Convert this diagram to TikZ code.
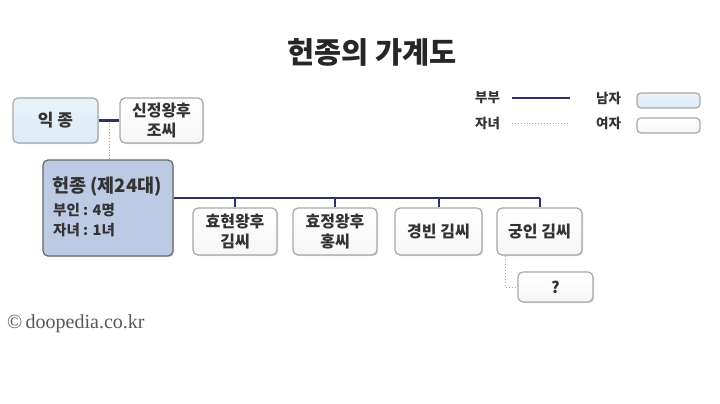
\documentclass[tikz,border=0pt]{standalone}
\usepackage{fontspec}
\setmainfont{Noto Sans CJK KR}
\newfontfamily\serifcr{Liberation Serif}
\usetikzlibrary{shadows,calc}
\definecolor{navy}{HTML}{2E2F6B}
\definecolor{bordergray}{HTML}{A8A8A8}
\definecolor{malefill}{HTML}{DCEBF6}
\definecolor{femfill}{HTML}{F6F6F6}
\definecolor{kingfill}{HTML}{BCCBE3}
\definecolor{txt}{HTML}{333333}
\tikzset{
  person/.style={draw=bordergray, line width=1.2pt, rounded corners=5pt, align=center,
    text=txt, font=\bfseries\fontsize{16}{20}\selectfont, inner sep=2pt,
    drop shadow={shadow xshift=1.2pt, shadow yshift=-1.2pt, opacity=0.25}},
  male/.style={person, top color=white!40!malefill, bottom color=malefill},
  female/.style={person, top color=white, bottom color=femfill},
  king/.style={person, fill=kingfill, draw=gray!80!black},
  spouse/.style={draw=navy, line width=2.4pt},
  child/.style={draw=gray!70, line width=0.9pt, dotted},
  legbox/.style={draw=bordergray, line width=1.2pt, rounded corners=4pt, minimum width=63pt, minimum height=15pt, inner sep=0pt},
  legtxt/.style={text=txt, font=\bfseries\fontsize{13.5}{15}\selectfont, inner sep=0pt}
}
\begin{document}
\begin{tikzpicture}[x=1pt,y=-1pt]
\useasboundingbox[fill=white] (0,0) rectangle (720,404);
% title
\node[text=black!85, font=\bfseries\fontsize{29.5}{32}\selectfont] (title) at (372,52) {헌종의 가계도};
% top generation
\node[male, minimum width=85pt, minimum height=45pt, font=\bfseries\fontsize{17}{20}\selectfont] (ik) at (55.5,120.5) {익 종};
\node[female, minimum width=83pt, minimum height=45pt] (sj) at (161.5,120.5) {신정왕후\\조씨};
% king
\node[king, minimum width=130pt, minimum height=96pt] (hj) at (108,208) {};
\node[text=txt, font=\bfseries\fontsize{18.5}{20}\selectfont, anchor=west, inner sep=0pt] (hjt) at (52,187) {헌종 (제24대)};
\node[text=txt, font=\bfseries\fontsize{14.5}{20}\selectfont, anchor=north west, align=left, inner sep=0pt] (hji) at (53,203) {부인 : 4명\\자녀 : 1녀};
% wives
\node[female, minimum width=84pt, minimum height=47pt] (c1) at (235,231.5) {효현왕후\\김씨};
\node[female, minimum width=84pt, minimum height=47pt] (c2) at (335,231.5) {효정왕후\\홍씨};
\node[female, minimum width=87pt, minimum height=47pt] (c3) at (438.5,231.5) {경빈 김씨};
\node[female, minimum width=85pt, minimum height=47pt] (c4) at (539.5,231.5) {궁인 김씨};
\node[female, minimum width=75pt, minimum height=30pt] (q) at (555.5,287) {?};
% connectors
\coordinate (m1) at ($(ik.east)!0.5!(sj.west)$);
\draw[child] (m1) -- (m1 |- hj.north);
\draw[spouse] (ik.east) -- (sj.west);
\coordinate (bus) at ([yshift=10pt]hj.east);
\draw[spouse] (bus) -- (bus -| c4.north);
\foreach \c in {c1,c2,c3,c4}{
  \draw[draw=navy, line width=2pt] (bus -| \c.north) -- (\c.north);
}
\coordinate (qa) at ([xshift=-34pt]c4.south);
\draw[child] (qa) |- (q.west);
% legend
\node[legtxt, anchor=west] (l1) at (475,98) {부부};
\node[legtxt, anchor=west] (l2) at (475,123) {자녀};
\coordinate (la1) at (512,98); \coordinate (lb1) at (570,98);
\coordinate (la2) at (512,123); \coordinate (lb2) at (570,123);
\draw[spouse] (la1) -- (lb1);
\draw[child] (la2) -- (lb2);
\node[legtxt, anchor=west] (l3) at (596,98) {남자};
\node[legtxt, anchor=west] (l4) at (596,123) {여자};
\node[legbox, top color=white!40!malefill, bottom color=malefill] (lm) at (668.5,100.5) {};
\node[legbox, top color=white, bottom color=femfill] (lf) at (668.5,125.5) {};
% copyright
\node[text=black!65, font=\serifcr\fontsize{20}{22}\selectfont, anchor=west, inner sep=0pt] (copy) at (7,324) {©\,doopedia.co.kr};
\end{tikzpicture}
\end{document}
